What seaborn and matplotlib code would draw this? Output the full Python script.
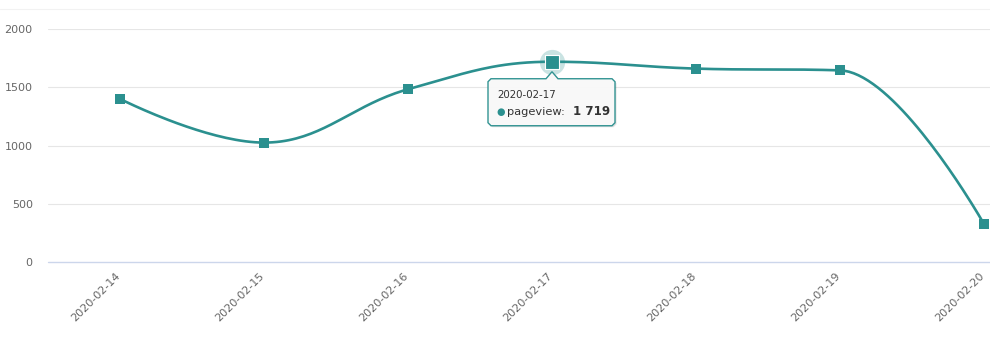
import numpy as np
import pandas as pd
import matplotlib
matplotlib.use("Agg")
import matplotlib.pyplot as plt
import matplotlib.transforms as mtransforms
from matplotlib.patches import Polygon
from matplotlib.lines import Line2D
import seaborn as sns

dates = ["2020-02-14", "2020-02-15", "2020-02-16", "2020-02-17",
         "2020-02-18", "2020-02-19", "2020-02-20"]
pageviews = [1400, 1025, 1483, 1719, 1660, 1645, 326]
y_ticks = [0, 500, 1000, 1500, 2000]
series_name = "pageview"
hover_index = 3

TEAL = "#2b908f"
W, H = 990, 345

sns.set_theme(style="white")
plt.rcParams["font.family"] = ["DejaVu Sans"]

df = pd.DataFrame({"date": dates, "pageview": pageviews, "x": np.arange(len(dates))})

fig = plt.figure(figsize=(W / 100, H / 100), dpi=100)
left, right, top, bottom = 48, 1056, 29, 262
ax = fig.add_axes([left / W, (H - bottom) / H, (right - left) / W, (bottom - top) / H])
ax.set_xlim(-0.5, len(dates) - 0.5)
ax.set_ylim(0, 2000)


def spline(xs, ys, steps=40):
    """Highcharts-style spline control points."""
    n = len(xs)
    sm = 1.5
    den = sm + 1
    lc = [None] * n
    rc = [None] * n
    for i in range(1, n - 1):
        px, py = xs[i], ys[i]
        lx, ly = xs[i - 1], ys[i - 1]
        nx, ny = xs[i + 1], ys[i + 1]
        lcx = (sm * px + lx) / den
        lcy = (sm * py + ly) / den
        rcx = (sm * px + nx) / den
        rcy = (sm * py + ny) / den
        corr = (rcy - lcy) * (rcx - px) / (rcx - lcx) + py - rcy
        lcy += corr
        rcy += corr
        if lcy > ly and lcy > py:
            lcy = max(ly, py); rcy = 2 * py - lcy
        elif lcy < ly and lcy < py:
            lcy = min(ly, py); rcy = 2 * py - lcy
        if rcy > ny and rcy > py:
            rcy = max(ny, py); lcy = 2 * py - rcy
        elif rcy < ny and rcy < py:
            rcy = min(ny, py); lcy = 2 * py - rcy
        lc[i] = (lcx, lcy)
        rc[i] = (rcx, rcy)
    outx, outy = [xs[0]], [ys[0]]
    t = np.linspace(0, 1, steps)[1:]
    for i in range(1, n):
        p0 = (xs[i - 1], ys[i - 1])
        p1 = rc[i - 1] if rc[i - 1] is not None else p0
        p3 = (xs[i], ys[i])
        p2 = lc[i] if lc[i] is not None else p3
        bx = (1 - t) ** 3 * p0[0] + 3 * (1 - t) ** 2 * t * p1[0] + 3 * (1 - t) * t ** 2 * p2[0] + t ** 3 * p3[0]
        by = (1 - t) ** 3 * p0[1] + 3 * (1 - t) ** 2 * t * p1[1] + 3 * (1 - t) * t ** 2 * p2[1] + t ** 3 * p3[1]
        outx.extend(bx); outy.extend(by)
    return np.array(outx), np.array(outy)


sx, sy = spline(df["x"].to_numpy(dtype=float), df["pageview"].to_numpy(dtype=float))
sns.lineplot(x=sx, y=sy, ax=ax, color=TEAL, linewidth=1.9, sort=False, zorder=3,
             solid_capstyle="round")
sns.scatterplot(data=df, x="x", y="pageview", ax=ax, marker="s", s=48, color=TEAL,
                edgecolor=TEAL, linewidth=0, zorder=4, clip_on=False)

# hover halo & enlarged marker
hx, hy = df["x"][hover_index], df["pageview"][hover_index]
ax.scatter([hx], [hy], s=330, color=TEAL, alpha=0.25, linewidth=0, zorder=3.5, clip_on=False)
ax.scatter([hx], [hy], s=95, marker="s", color=TEAL, edgecolor="white", linewidth=0.8,
           zorder=5, clip_on=False)

# grid & axes
for yt in y_ticks[1:]:
    ax.axhline(yt, color="#e6e6e6", linewidth=0.8, zorder=1)
ax.axhline(0, color="#ccd6eb", linewidth=1.0, zorder=2, clip_on=False)
for s in ax.spines.values():
    s.set_visible(False)
fig.add_artist(Line2D([0, 1], [(H - 9) / H] * 2, color="#f2f2f2", linewidth=0.8))

ax.set_yticks(y_ticks)
ax.set_yticklabels([str(v) for v in y_ticks], color="#666666", fontsize=8)
ax.tick_params(axis="y", length=0, pad=11)
ax.set_xticks(df["x"])
ax.set_xticklabels(dates, rotation=45, ha="right", rotation_mode="anchor",
                   color="#666666", fontsize=8)
ax.tick_params(axis="x", length=0, pad=8)
shift = mtransforms.ScaledTranslation(-5 / 100, 2 / 100, fig.dpi_scale_trans)
for lab in ax.get_xticklabels():
    lab.set_transform(lab.get_transform() + shift)
ax.set_xlabel("")
ax.set_ylabel("")

# tooltip
fig.canvas.draw()
px, py = ax.transData.transform((hx, hy))
idt = mtransforms.IdentityTransform()
bl, br = px - 64, px + 63
bt, bb = py - 17, py - 64
apex = py - 10
r = 3
shape = [(bl + r, bt), (px - 6, bt), (px, apex), (px + 6, bt), (br - r, bt),
         (br, bt - r), (br, bb + r), (br - r, bb), (bl + r, bb), (bl, bb + r), (bl, bt - r)]
shadow = Polygon([(x + 1.5, y - 1.5) for x, y in shape], closed=True, transform=idt,
                 facecolor="#000000", alpha=0.12, edgecolor="none", zorder=9)
box = Polygon(shape, closed=True, transform=idt, facecolor="#f9f9f9",
              edgecolor=TEAL, linewidth=1.0, zorder=10, alpha=0.97)
fig.add_artist(shadow)
fig.add_artist(box)
fig.text(bl + 9, bt - 16, dates[hover_index], transform=idt, fontsize=7.4,
         color="#333333", va="center", ha="left", zorder=11)
fig.text(bl + 8, bt - 33, "\u25cf", transform=idt, fontsize=7, color=TEAL,
         va="center", ha="left", zorder=11)
fig.text(bl + 19, bt - 33, f"{series_name}: ", transform=idt, fontsize=8.2,
         color="#333333", va="center", ha="left", zorder=11)
val = f"{pageviews[hover_index]:,}".replace(",", " ")
fig.text(bl + 85, bt - 33, val, transform=idt, fontsize=8.6, fontweight="bold",
         color="#333333", va="center", ha="left", zorder=11)

fig.savefig("out.png", dpi=100)
